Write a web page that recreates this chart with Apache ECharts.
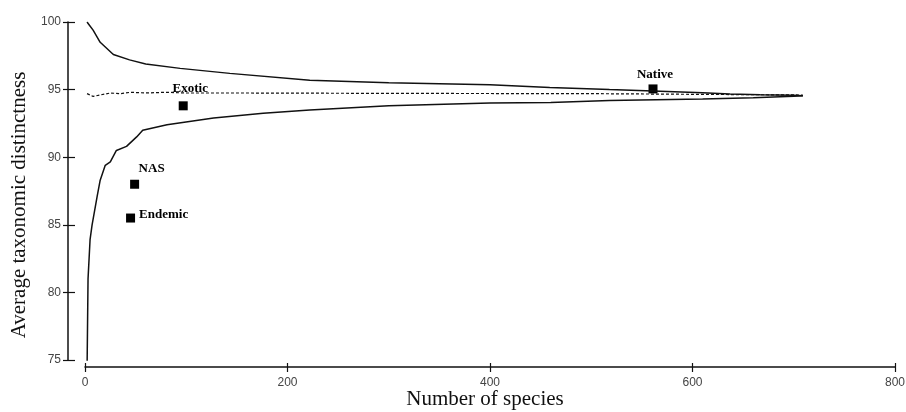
<!DOCTYPE html>
<html>
<head>
<meta charset="utf-8">
<title>Average taxonomic distinctness</title>
<script src="https://cdn.jsdelivr.net/npm/echarts@6/dist/echarts.min.js"></script>
<style>
  html, body { margin: 0; padding: 0; background: #fff; }
  #main { width: 906px; height: 412px; }
</style>
</head>
<body>
<div id="main"></div>
<script>
// funnel limits (upper / lower) and the mean line
var upperN = [2, 4, 8, 15, 28, 44, 60, 94, 143, 222, 300, 400, 459, 518, 568, 610, 637, 667, 700, 709];
var upperV = [100, 99.8, 99.4, 98.5, 97.6, 97.2, 96.9, 96.57, 96.2, 95.7, 95.5, 95.35, 95.15, 95.0, 94.88, 94.76, 94.68, 94.62, 94.58, 94.55];

var lowerN = [2, 3, 5, 7, 12, 15, 20, 25, 31, 41, 51, 57, 81, 127, 176, 222, 300, 400, 460, 518, 610, 660, 700, 709];
var lowerV = [74, 81, 83.9, 85, 87.1, 88.3, 89.4, 89.65, 90.5, 90.8, 91.5, 92.0, 92.4, 92.9, 93.25, 93.5, 93.8, 94.0, 94.05, 94.2, 94.3, 94.4, 94.5, 94.55];

var meanN = [2, 8, 15, 25, 35, 45, 60, 80, 100, 150, 300, 500, 709];
var meanV = [94.7, 94.5, 94.6, 94.75, 94.7, 94.8, 94.75, 94.8, 94.75, 94.75, 94.72, 94.7, 94.6];

// the four assemblages
var groupNames = ['Exotic', 'Native', 'NAS', 'Endemic'];
var groupN = [97, 561, 49, 45];
var groupV = [93.8, 95.05, 88.0, 85.5];

var xTicks = [0, 200, 400, 600, 800];
var yTicks = [75, 80, 85, 90, 95, 100];

function pairs(xs, ys) {
    var out = [];
    for (var i = 0; i < xs.length; i++) {
        out.push([xs[i], ys[i]]);
    }
    return out;
}

// label placement for each point
var labelPos = {
    'Exotic': {position: 'top', distance: 6, offset: [7, 0]},
    'Native': {position: 'top', distance: 3, offset: [2, 0]},
    'NAS': {position: 'top', distance: 5, offset: [17, 0]},
    'Endemic': {position: 'right', distance: 4, offset: [0, -3]}
};

var points = [];
for (var i = 0; i < groupNames.length; i++) {
    var lp = labelPos[groupNames[i]];
    points.push({
        name: groupNames[i],
        value: [groupN[i], groupV[i]],
        label: {show: true, position: lp.position, distance: lp.distance, offset: lp.offset}
    });
}

var axisFont = {color: '#444', fontSize: 12, fontFamily: 'Liberation Sans, Arial, sans-serif'};
var serif = 'Liberation Serif, Times New Roman, serif';

var myChart = echarts.init(document.getElementById('main'));
var option = {
    backgroundColor: '#fff',
    animation: false,
    grid: {left: 85, right: 11, top: 22, bottom: 52, outerBoundsMode: 'none', containLabel: false},
    xAxis: [
        {
            type: 'value',
            min: xTicks[0],
            max: xTicks[xTicks.length - 1],
            interval: 200,
            position: 'bottom',
            offset: 7,
            name: 'Number of species',
            nameLocation: 'middle',
            nameGap: 22,
            nameMoveOverlap: false,
            nameTextStyle: {color: '#111', fontSize: 21, fontFamily: serif, padding: [0, 10, 0, 0]},
            axisLine: {show: true, onZero: false, lineStyle: {color: '#111', width: 1.5}},
            axisTick: {show: true, length: 5, lineStyle: {color: '#111', width: 1.2}},
            axisLabel: Object.assign({margin: 10}, axisFont),
            splitLine: {show: false}
        },
        {
            // inner half of the ticks so they cross the axis line
            type: 'value',
            min: xTicks[0],
            max: xTicks[xTicks.length - 1],
            interval: 200,
            position: 'bottom',
            offset: 7,
            axisLine: {show: false, onZero: false},
            axisTick: {show: true, inside: true, length: 4, lineStyle: {color: '#111', width: 1.2}},
            axisLabel: {show: false},
            splitLine: {show: false}
        }
    ],
    yAxis: [
        {
            type: 'value',
            min: yTicks[0],
            max: yTicks[yTicks.length - 1],
            interval: 5,
            position: 'left',
            offset: 17,
            name: 'Average taxonomic distinctness',
            nameLocation: 'middle',
            nameGap: 36,
            nameTextStyle: {color: '#111', fontSize: 21, fontFamily: serif, padding: [0, 28, 0, 0]},
            axisLine: {show: true, onZero: false, lineStyle: {color: '#111', width: 1.5}},
            axisTick: {show: true, length: 5, lineStyle: {color: '#111', width: 1.2}},
            axisLabel: Object.assign({margin: 7}, axisFont),
            splitLine: {show: false}
        },
        {
            type: 'value',
            min: yTicks[0],
            max: yTicks[yTicks.length - 1],
            interval: 5,
            position: 'left',
            offset: 17,
            axisLine: {show: false, onZero: false},
            axisTick: {show: true, inside: true, length: 7, lineStyle: {color: '#111', width: 1.2}},
            axisLabel: {show: false},
            splitLine: {show: false}
        }
    ],
    series: [
        {
            name: 'upper',
            type: 'line',
            data: pairs(upperN, upperV),
            showSymbol: false,
            clip: true,
            lineStyle: {color: '#111', width: 1.5}
        },
        {
            name: 'lower',
            type: 'line',
            data: pairs(lowerN, lowerV),
            showSymbol: false,
            clip: true,
            lineStyle: {color: '#111', width: 1.5}
        },
        {
            name: 'mean',
            type: 'line',
            data: pairs(meanN, meanV),
            showSymbol: false,
            lineStyle: {color: '#111', width: 1.2, type: [3, 2]}
        },
        {
            name: 'groups',
            type: 'scatter',
            symbol: 'rect',
            symbolSize: 9,
            itemStyle: {color: '#000', opacity: 1},
            label: {
                formatter: '{b}',
                color: '#000',
                fontSize: 13,
                fontWeight: 'bold',
                fontFamily: serif
            },
            data: points
        }
    ]
};
myChart.setOption(option);
</script>
</body>
</html>
